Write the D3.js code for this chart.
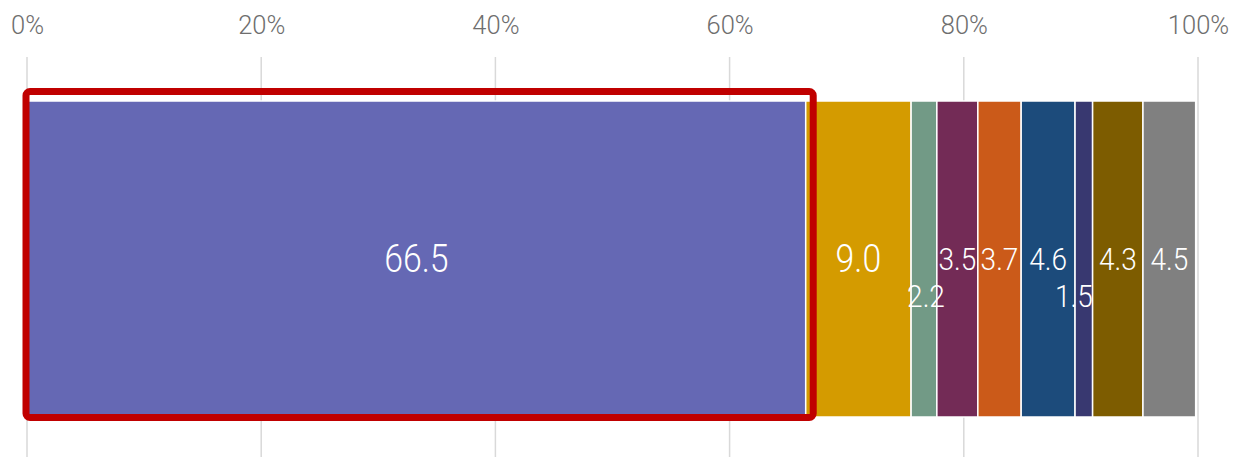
<!DOCTYPE html>
<html>
<head>
<meta charset="utf-8">
<script src="https://cdn.jsdelivr.net/npm/d3@7"></script>
<style>
  html, body { margin: 0; padding: 0; background: #fff; }
  svg { display: block; }
</style>
</head>
<body>
<svg id="chart" width="1235" height="457"></svg>
<script>
// Share of each segment (percent), left to right
const segments = ["A", "B", "C", "D", "E", "F", "G", "H", "I"];
const shares = [66.5, 9.0, 2.2, 3.5, 3.7, 4.6, 1.5, 4.3, 4.5];
const colors = ["#6568b4", "#d49b00", "#729a86", "#732b56", "#cb5a19", "#1c4b7b", "#383870", "#7d5c00", "#808080"];
const tickValues = [0, 20, 40, 60, 80, 100];
const highlighted = "A";

const svg = d3.select("#chart");
const W = 1235, H = 457;
const barTop = 101, barBottom = 417;

const x = d3.scaleLinear().domain([0, 100]).range([27, 1198]);

// Cumulative positions for the stacked bar
let acc = 0;
const rows = segments.map((s, i) => {
  const r = { key: s, value: shares[i], x0: acc, x1: acc + shares[i], color: colors[i] };
  acc += shares[i];
  return r;
});

// Vertical gridlines
const axis = d3.axisTop(x)
  .tickValues(tickValues)
  .tickFormat(d => d + "%")
  .tickSize(0);

svg.append("g")
  .selectAll("line")
  .data(tickValues)
  .join("line")
  .attr("x1", d => x(d)).attr("x2", d => x(d))
  .attr("y1", 57).attr("y2", H)
  .attr("stroke", "#d9d9d9")
  .attr("stroke-width", 1.5);

const gAxis = svg.append("g")
  .attr("transform", "translate(0,37)")
  .call(axis);
gAxis.select(".domain").remove();
gAxis.selectAll("text")
  .attr("dy", 0)
  .attr("fill", "#6e6e6e")
  .style("font-family", "Roboto, 'Noto Sans', sans-serif")
  .style("font-weight", 300)
  .style("font-size", "25.5px");

// Stacked segments
svg.append("g")
  .selectAll("rect")
  .data(rows)
  .join("rect")
  .attr("x", d => x(d.x0))
  .attr("y", barTop)
  .attr("width", d => x(d.x1) - x(d.x0))
  .attr("height", barBottom - barTop)
  .attr("fill", d => d.color)
  .attr("stroke", "#fff")
  .attr("stroke-width", 1.5);

// Value labels; narrow segments get a smaller font, the narrowest drop lower
const yMid = (barTop + barBottom) / 2;
svg.append("g")
  .selectAll("text")
  .data(rows)
  .join("text")
  .attr("transform", d => {
    const w = x(d.x1) - x(d.x0);
    let cx = (x(d.x0) + x(d.x1)) / 2;
    let cy = yMid;
    if (w < 20) { cy += 37; cx -= 10; }
    else if (w < 30) { cy += 37; cx += 2; }
    return `translate(${cx},${cy}) scale(0.89,1)`;
  })
  .attr("text-anchor", "middle")
  .attr("dominant-baseline", "central")
  .attr("fill", "#fff")
  .style("font-family", "Roboto, 'Noto Sans', sans-serif")
  .style("font-weight", 300)
  .style("font-size", d => d.value >= 8 ? "38px" : "31.5px")
  .text(d => d.value.toFixed(1));

// Highlight frame around the leading segment
const hl = rows.find(r => r.key === highlighted);
svg.append("rect")
  .attr("x", x(hl.x0) - 1)
  .attr("y", barTop - 9.5)
  .attr("width", x(hl.x1) + 7.5 - (x(hl.x0) - 1))
  .attr("height", (barBottom + 0.5) - (barTop - 9.5))
  .attr("rx", 4)
  .attr("fill", "none")
  .attr("stroke", "#c00000")
  .attr("stroke-width", 7);
</script>
</body>
</html>
